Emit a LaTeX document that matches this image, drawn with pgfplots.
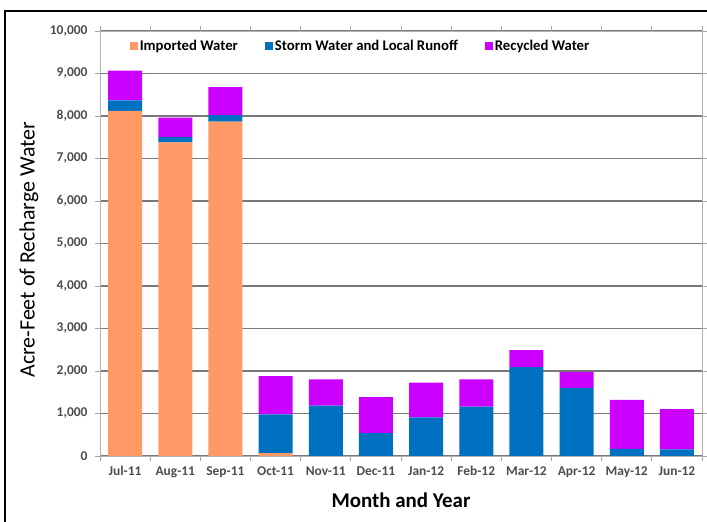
\documentclass[border=0pt]{standalone}
\usepackage{pgfplots}
\pgfplotsset{compat=1.18}
\usepackage{fontspec}
\setmainfont{Carlito}
\definecolor{imp}{HTML}{FF9966}
\definecolor{storm}{HTML}{0070C0}
\definecolor{rec}{HTML}{CC00FF}
\definecolor{lbl}{HTML}{4D4D4D}
\begin{document}
\begin{tikzpicture}[x=1bp,y=1bp]
\useasboundingbox (0,0) rectangle (707,522);
\draw[black, line width=1.2bp] (5,-5) -- (5,511) -- (712,511);
\begin{axis}[
  at={(100bp,66bp)}, anchor=south west,
  scale only axis, width=602bp, height=425bp,
  ybar stacked, bar width=34bp,
  xmin=-0.5, xmax=11.5, ymin=0, ymax=10000,
  xtick={0,...,11},
  xticklabels={Jul-11,Aug-11,Sep-11,Oct-11,Nov-11,Dec-11,Jan-12,Feb-12,Mar-12,Apr-12,May-12,Jun-12},
  minor xtick={-0.5,0.5,...,11.5},
  ytick={0,1000,...,10000},
  scaled y ticks=false,
  yticklabel style={/pgf/number format/1000 sep={,}, xshift=-4bp},
  /pgf/number format/assume math mode=true,
  ticklabel style={font=\bfseries\fontsize{13.5}{15}\selectfont, text=lbl},
  tick align=outside,
  major tick length=5bp, minor tick length=5bp,
  major x tick style={draw=none},
  minor x tick style={draw=gray!70, line width=0.8bp},
  ytick style={draw=gray!70, line width=0.8bp},
  ymajorgrids,
  major grid style={draw=gray!95!black, line width=1.2bp},
  axis line style={draw=gray!60, line width=0.8bp},
  xticklabel style={yshift=-2bp},
  xlabel={Month and Year},
  xlabel style={at={(axis description cs:0.5,0)}, yshift=-44bp, anchor=center, font=\bfseries\fontsize{21}{24}\selectfont},
  ylabel={Acre-Feet of Recharge Water},
  ylabel style={at={(axis description cs:0,0.485)}, rotate=0, yshift=71bp, anchor=center, font=\fontsize{22}{25}\selectfont},
  legend columns=3,
  legend style={at={(0.045,0.965)}, anchor=west, draw=none, fill=none,
    font=\bfseries\fontsize{14.8}{17}\selectfont,
    nodes={inner xsep=1.5bp},
    /tikz/every even column/.append style={column sep=26bp}},
  legend image code/.code={\fill[#1] (0bp,-4bp) rectangle (8bp,4bp);},
]
\addplot[fill=imp, draw=none] coordinates {(0,8120) (1,7380) (2,7870) (3,70) (4,0) (5,0) (6,0) (7,0) (8,0) (9,0) (10,0) (11,0)};
\addplot[fill=storm, draw=none] coordinates {(0,250) (1,120) (2,150) (3,910) (4,1185) (5,540) (6,910) (7,1160) (8,2090) (9,1600) (10,170) (11,155)};
\addplot[fill=rec, draw=none] coordinates {(0,700) (1,460) (2,660) (3,900) (4,615) (5,845) (6,815) (7,640) (8,400) (9,380) (10,1150) (11,945)};
\legend{Imported Water, Storm Water and Local Runoff, Recycled Water}
\end{axis}
\end{tikzpicture}
\end{document}
